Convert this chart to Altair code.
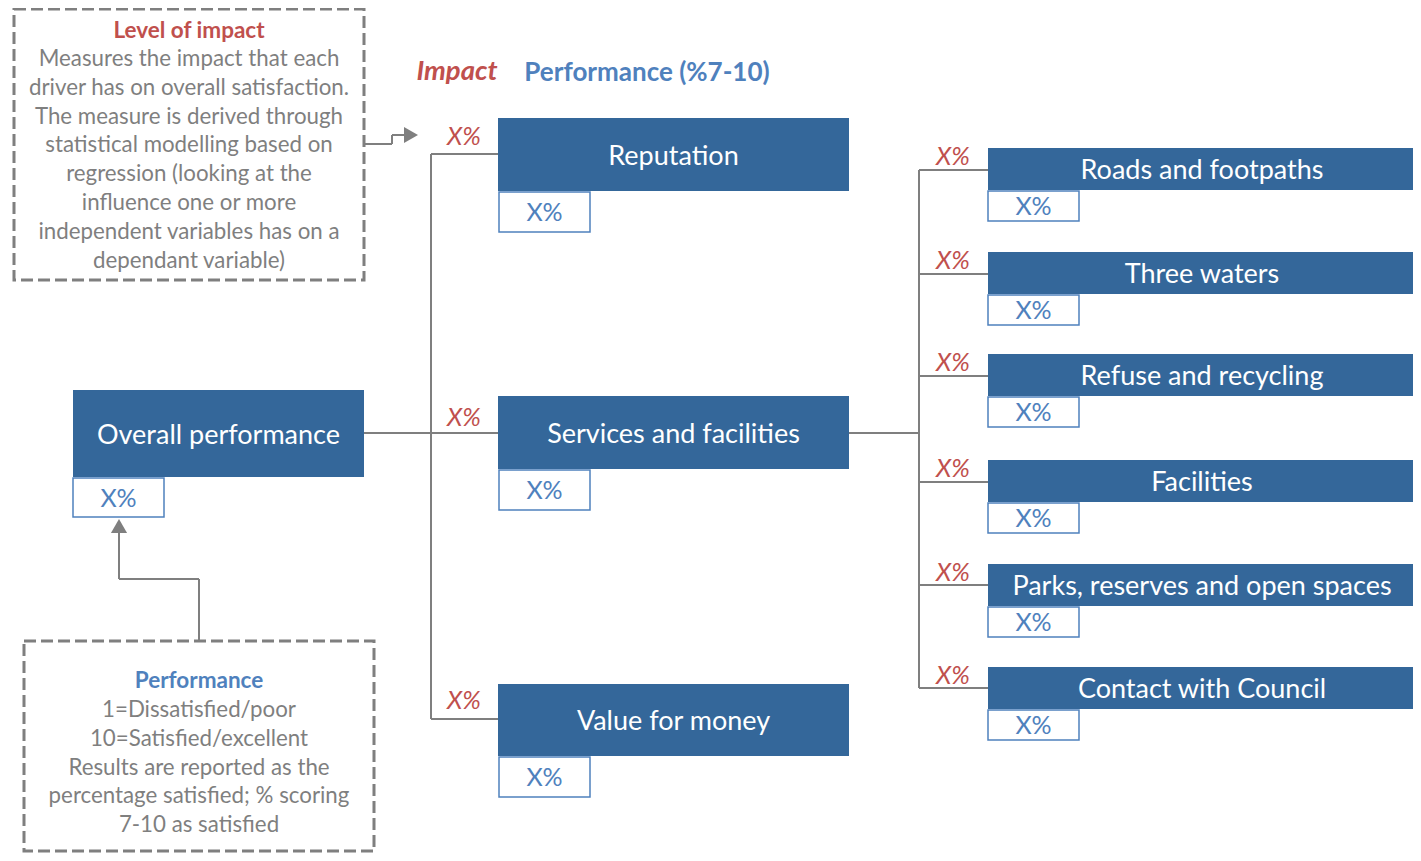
import altair as alt
import pandas as pd

# ---------------- content ----------------
TOP_NODE = "Overall performance"
TOP_PERF = "X%"
DRIVERS = ["Reputation", "Services and facilities", "Value for money"]
DRIVER_IMPACT = ["X%", "X%", "X%"]
DRIVER_PERF = ["X%", "X%", "X%"]
SUB_DRIVERS = ["Roads and footpaths", "Three waters", "Refuse and recycling",
               "Facilities", "Parks, reserves and open spaces", "Contact with Council"]
SUB_IMPACT = ["X%", "X%", "X%", "X%", "X%", "X%"]
SUB_PERF = ["X%", "X%", "X%", "X%", "X%", "X%"]
HEADER_IMPACT = "Impact"
HEADER_PERF = "Performance (%7-10)"
IMPACT_NOTE_TITLE = "Level of impact"
IMPACT_NOTE_LINES = ["Measures the impact that each",
                     "driver has on overall satisfaction.",
                     "The measure is derived through",
                     "statistical modelling based on",
                     "regression (looking at the",
                     "influence one or more",
                     "independent variables has on a",
                     "dependant variable)"]
PERF_NOTE_TITLE = "Performance"
PERF_NOTE_LINES = ["1=Dissatisfied/poor",
                   "10=Satisfied/excellent",
                   "Results are reported as the",
                   "percentage satisfied; % scoring",
                   "7-10 as satisfied"]

# ---------------- layout (page pixel coordinates) ----------------
TOP_BOX = (73, 364, 390, 477)
TOP_SMALL = (73, 164, 478, 517)
DRV_X = (498, 849)
DRV_Y = [(118, 191), (396, 469), (684, 756)]
DRV_SMALL_X = (499, 590)
DRV_LINE_Y = [154, 433, 719]
DRV_TRUNK_X = 431
DRV_IMPACT_POS = (464, [137, 418, 701])
SUB_X = (988, 1416)
SUB_Y = [(148, 190), (252, 294), (354, 396), (460, 502), (564, 606), (667, 709)]
SUB_SMALL_X = (988, 1079)
SUB_SMALL_H = 30
SUB_LINE_Y = [170, 274, 376, 482, 585, 688]
SUB_TRUNK_X = 919
SUB_IMPACT_POS = (953, [157, 261, 363, 469, 573, 676])
NOTE1 = (14, 364, 9, 280)
NOTE2 = (24, 374, 641, 851)
LINE_H = 28.8

BLUE_FILL = "#34679A"
RED = "#C0504D"
BLUE_TXT = "#4F81BD"
GREY = "#7F7F7F"
FONT = "Lato"

X = alt.Scale(domain=[8, 1413], nice=False, zero=False)
Y = alt.Scale(domain=[8, 853], nice=False, zero=False, reverse=True)


def enc(**kw):
    out = {}
    for k, v in kw.items():
        if k in ("x", "x2"):
            out[k] = alt.X(f"{v}:Q", scale=X, axis=None) if k == "x" else alt.X2(f"{v}:Q")
        elif k in ("y", "y2"):
            out[k] = alt.Y(f"{v}:Q", scale=Y, axis=None) if k == "y" else alt.Y2(f"{v}:Q")
        else:
            out[k] = v
    return out


# ---- rects ----
blue_rects = [dict(x=TOP_BOX[0], x2=TOP_BOX[1], y=TOP_BOX[2], y2=TOP_BOX[3])]
for (a, b) in DRV_Y:
    blue_rects.append(dict(x=DRV_X[0], x2=DRV_X[1], y=a, y2=b))
for (a, b) in SUB_Y:
    blue_rects.append(dict(x=SUB_X[0], x2=SUB_X[1], y=a, y2=b))

small_rects = [dict(x=TOP_SMALL[0], x2=TOP_SMALL[1], y=TOP_SMALL[2], y2=TOP_SMALL[3])]
for (a, b) in DRV_Y:
    small_rects.append(dict(x=DRV_SMALL_X[0], x2=DRV_SMALL_X[1], y=b + 1, y2=b + 41))
for (a, b) in SUB_Y:
    small_rects.append(dict(x=SUB_SMALL_X[0], x2=SUB_SMALL_X[1], y=b + 1, y2=b + 1 + SUB_SMALL_H))

note_rects = [dict(x=NOTE1[0], x2=NOTE1[1], y=NOTE1[2], y2=NOTE1[3]),
              dict(x=NOTE2[0], x2=NOTE2[1], y=NOTE2[2], y2=NOTE2[3])]

# ---- connector segments ----
segs = []
for ly in [DRV_LINE_Y[0], DRV_LINE_Y[2]]:
    segs.append(dict(x=DRV_TRUNK_X, x2=DRV_X[0], y=ly, y2=ly))
segs.append(dict(x=DRV_TRUNK_X, x2=DRV_TRUNK_X, y=DRV_LINE_Y[0], y2=DRV_LINE_Y[2]))
segs.append(dict(x=TOP_BOX[1], x2=DRV_X[0], y=DRV_LINE_Y[1], y2=DRV_LINE_Y[1]))
segs.append(dict(x=DRV_X[1], x2=SUB_TRUNK_X, y=DRV_LINE_Y[1], y2=DRV_LINE_Y[1]))
segs.append(dict(x=SUB_TRUNK_X, x2=SUB_TRUNK_X, y=SUB_LINE_Y[0], y2=SUB_LINE_Y[-1]))
for ly in SUB_LINE_Y:
    segs.append(dict(x=SUB_TRUNK_X, x2=SUB_X[0], y=ly, y2=ly))
# arrow from impact note
segs += [dict(x=364, x2=392, y=144, y2=144),
         dict(x=392, x2=392, y=144, y2=135),
         dict(x=392, x2=406, y=135, y2=135)]
# arrow from performance note
segs += [dict(x=199, x2=199, y=641, y2=579),
         dict(x=199, x2=119, y=579, y2=579),
         dict(x=119, x2=119, y=579, y2=532)]

heads = pd.DataFrame([dict(x=411, y=135, shape="triangle-right"),
                      dict(x=119, y=526, shape="triangle-up")])

# ---- texts ----
node_txt = [dict(x=(TOP_BOX[0] + TOP_BOX[1]) / 2, y=(TOP_BOX[2] + TOP_BOX[3]) / 2 + 2, t=TOP_NODE)]
for name, (a, b) in zip(DRIVERS, DRV_Y):
    node_txt.append(dict(x=(DRV_X[0] + DRV_X[1]) / 2, y=(a + b) / 2 + 2, t=name))
for name, (a, b) in zip(SUB_DRIVERS, SUB_Y):
    node_txt.append(dict(x=(SUB_X[0] + SUB_X[1]) / 2, y=(a + b) / 2 + 2, t=name))

perf_txt = [dict(x=(TOP_SMALL[0] + TOP_SMALL[1]) / 2, y=(TOP_SMALL[2] + TOP_SMALL[3]) / 2 + 1, t=TOP_PERF)]
for v, (a, b) in zip(DRIVER_PERF, DRV_Y):
    perf_txt.append(dict(x=(DRV_SMALL_X[0] + DRV_SMALL_X[1]) / 2, y=b + 22, t=v))
for v, (a, b) in zip(SUB_PERF, SUB_Y):
    perf_txt.append(dict(x=(SUB_SMALL_X[0] + SUB_SMALL_X[1]) / 2, y=b + 17, t=v))

impact_txt = [dict(x=DRV_IMPACT_POS[0], y=yy, t=v) for v, yy in zip(DRIVER_IMPACT, DRV_IMPACT_POS[1])]
impact_txt += [dict(x=SUB_IMPACT_POS[0], y=yy, t=v) for v, yy in zip(SUB_IMPACT, SUB_IMPACT_POS[1])]

note_body = [dict(x=189, y=59 + i * LINE_H, t=s) for i, s in enumerate(IMPACT_NOTE_LINES)]
note_body += [dict(x=199, y=710 + i * LINE_H, t=s) for i, s in enumerate(PERF_NOTE_LINES)]


def rect_layer(rows, **mk):
    return alt.Chart(pd.DataFrame(rows)).mark_rect(**mk).encode(**enc(x="x", x2="x2", y="y", y2="y2"))


def text_layer(rows, **mk):
    base = dict(font=FONT, align="center", baseline="middle")
    base.update(mk)
    return alt.Chart(pd.DataFrame(rows)).mark_text(**base).encode(
        **enc(x="x", y="y"), text="t:N")


layers = [
    rect_layer(note_rects, fill="white", fillOpacity=0, stroke=GREY, strokeWidth=3,
               strokeDash=[12, 5]),
    alt.Chart(pd.DataFrame(segs)).mark_rule(color=GREY, strokeWidth=2).encode(
        **enc(x="x", x2="x2", y="y", y2="y2")),
    alt.Chart(heads).mark_point(filled=True, size=260, color=GREY, opacity=1).encode(
        **enc(x="x", y="y"), shape=alt.Shape("shape:N", scale=None, legend=None)),
    rect_layer(blue_rects, fill=BLUE_FILL),
    rect_layer(small_rects, fill="white", stroke=BLUE_TXT, strokeWidth=1.5),
    text_layer(node_txt, color="white", fontSize=27),
    text_layer(perf_txt, color=BLUE_TXT, fontSize=25),
    text_layer(impact_txt, color=RED, fontSize=25, fontStyle="italic"),
    text_layer(note_body, color=GREY, fontSize=22.3),
    text_layer([dict(x=189, y=31, t=IMPACT_NOTE_TITLE)], color=RED, fontSize=22.5, fontWeight="bold"),
    text_layer([dict(x=199, y=681, t=PERF_NOTE_TITLE)], color=BLUE_TXT, fontSize=22.5, fontWeight="bold"),
    text_layer([dict(x=457, y=72, t=HEADER_IMPACT)], color=RED, fontSize=27.5,
               fontWeight="bold", fontStyle="italic"),
    text_layer([dict(x=647, y=73, t=HEADER_PERF)], color=BLUE_TXT, fontSize=26, fontWeight="bold"),
]

chart = alt.layer(*layers).properties(
    width=1405, height=845, padding=0, background="white",
    autosize=alt.AutoSizeParams(type="none"),
).configure_view(stroke="transparent", strokeWidth=0)

chart.save("out.html", embed_options={"renderer": "svg", "actions": False})
